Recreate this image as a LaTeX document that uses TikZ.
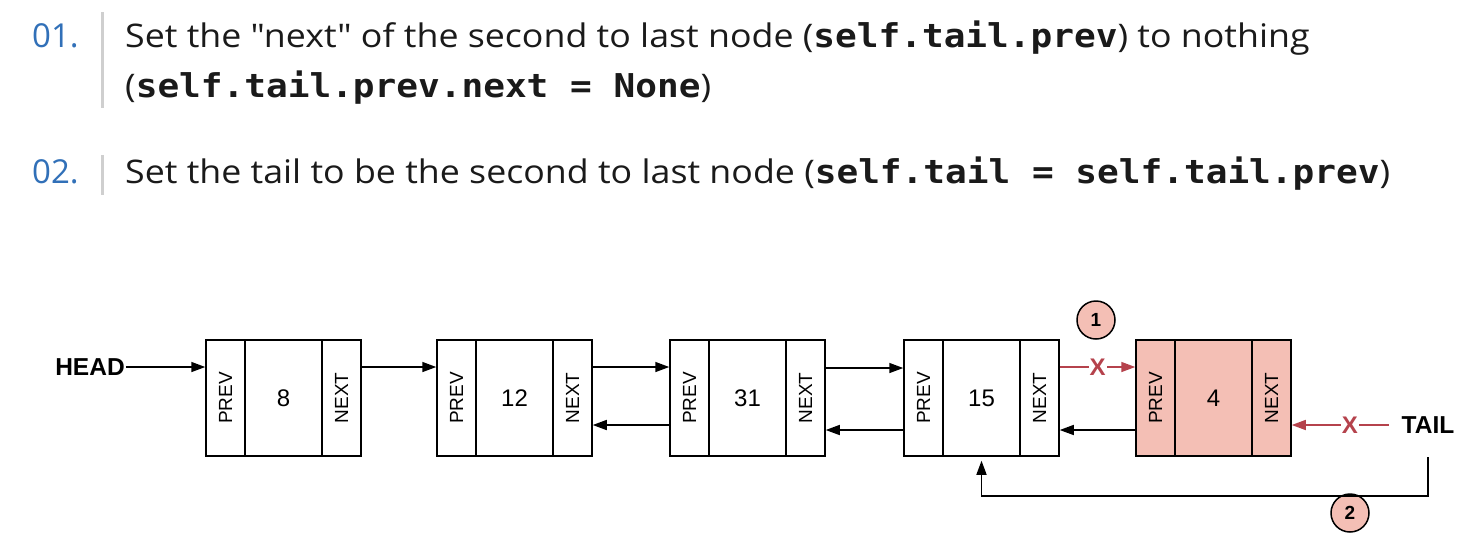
\documentclass[tikz,border=0pt]{standalone}
\usepackage{fontspec}
\setmainfont{Open Sans}[Ligatures=TeXOff]
\newfontfamily\stepfont{Open Sans}[Ligatures=TeXOff,FakeStretch=1.1]
\newfontfamily\diagfont{Liberation Sans}
\newfontfamily\codefont{DejaVu Sans Mono}[FakeStretch=1.1]
\usetikzlibrary{arrows.meta}
\definecolor{stepblue}{HTML}{3170B8}
\definecolor{barGray}{HTML}{CFCFCF}
\definecolor{tailred}{HTML}{B5424C}
\definecolor{tailpink}{HTML}{F4BFB5}
\definecolor{textblack}{HTML}{1A1A1A}
\newcommand{\code}[1]{{\codefont\bfseries\fontsize{32.8}{32.8}\selectfont #1}}
\begin{document}
\begin{tikzpicture}[x=1pt, y=-1pt,
               num_style/.style={anchor=base west,inner sep=0pt,text=stepblue,font=\fontsize{33}{33}\selectfont},
               line_style/.style={anchor=base west,inner sep=0pt,text=textblack,font=\stepfont\fontsize{32.5}{32.5}\selectfont},
               part_style/.style={rectangle,draw=black,line width=1.5pt,minimum height=116pt,inner sep=0pt},
               prev_style/.style={part_style,minimum width=39pt,font=\diagfont\fontsize{19}{19}\selectfont},
               data_style/.style={part_style,minimum width=77pt,font=\diagfont\fontsize{24}{24}\selectfont},
               next_style/.style={part_style,minimum width=39pt,font=\diagfont\fontsize{19}{19}\selectfont},
               label_style/.style={inner sep=0pt,font=\diagfont\bfseries\fontsize{24.5}{24.5}\selectfont},
               step_style/.style={circle,draw=black,line width=1.5pt,fill=tailpink,minimum size=38pt,inner sep=0pt,font=\diagfont\bfseries\fontsize{19}{19}\selectfont},
               x_style/.style={fill=white,inner sep=1pt,text=tailred,font=\diagfont\bfseries\fontsize{24}{24}\selectfont},
               edge_style/.style={draw=black,line width=1.5pt,-{Triangle[length=14pt,width=10pt]}},
               red_edge_style/.style={draw=tailred,line width=1.5pt,-{Triangle[length=14pt,width=10pt]}}]
                \useasboundingbox[fill=white] (0,0) rectangle (1468,558);

                % steps
                \node[num_style] (n1) at (32,47) {01.};
                \node[num_style] (n2) at (32,183) {02.};
                \draw[barGray,line width=3pt] (102,12) -- (102,108);
                \draw[barGray,line width=3pt] (102,155) -- (102,195);
                \node[line_style] (s1a) at (125,47) {Set the "next" of the second to last node (\code{self.tail.prev}) to nothing};
                \node[line_style] (s1b) at (125,97) {(\code{self.tail.prev.next = None})};
                \node[line_style] (s2) at (125,183) {Set the tail to be the second to last node (\code{self.tail = self.tail.prev})};

                % list nodes
                \node[prev_style] (p8) at (225.5,398) {\rotatebox{90}{PREV}};
                \node[data_style] (d8) at (283.5,398) {8};
                \node[next_style] (x8) at (341.5,398) {\rotatebox{90}{NEXT}};

                \node[prev_style] (p12) at (456.5,398) {\rotatebox{90}{PREV}};
                \node[data_style] (d12) at (514.5,398) {12};
                \node[next_style] (x12) at (572.5,398) {\rotatebox{90}{NEXT}};

                \node[prev_style] (p31) at (689.5,398) {\rotatebox{90}{PREV}};
                \node[data_style] (d31) at (747.5,398) {31};
                \node[next_style] (x31) at (805.5,398) {\rotatebox{90}{NEXT}};

                \node[prev_style] (p15) at (923.5,398) {\rotatebox{90}{PREV}};
                \node[data_style] (d15) at (981.5,398) {15};
                \node[next_style] (x15) at (1039.5,398) {\rotatebox{90}{NEXT}};

                \node[prev_style,fill=tailpink] (p4) at (1155.5,398) {\rotatebox{90}{PREV}};
                \node[data_style,fill=tailpink] (d4) at (1213.5,398) {4};
                \node[next_style,fill=tailpink] (x4) at (1271.5,398) {\rotatebox{90}{NEXT}};

                \node[label_style] (head) at (90,367) {HEAD};
                \node[label_style] (tail) at (1428,425) {TAIL};
                \node[step_style] (c1) at (1096,320) {1};
                \node[step_style] (c2) at (1350,513) {2};
                \coordinate (tail_end) at (1428,457);
                \coordinate (turn) at (1428,496);

                % links
                \draw[edge_style] ([xshift=1pt]head.east) -- (head.east -| p8.west);
                \draw[edge_style] ([yshift=31pt]x8.east) -- ([yshift=31pt]p12.west);
                \draw[edge_style] ([yshift=31pt]x12.east) -- ([yshift=31pt]p31.west);
                \draw[edge_style] ([yshift=-27pt]p31.west) -- ([yshift=-27pt]x12.east);
                \draw[edge_style] ([yshift=30pt]x31.east) -- ([yshift=30pt]p15.west);
                \draw[edge_style] ([yshift=-32pt]p15.west) -- ([yshift=-32pt]x31.east);
                \draw[red_edge_style] ([yshift=31pt]x15.east) -- node[x_style] {X} ([yshift=31pt]p4.west);
                \draw[edge_style] ([yshift=-32pt]p4.west) -- ([yshift=-32pt]x15.east);
                \draw[red_edge_style] ([xshift=-13pt]tail.west) -- node[x_style,pos=0.4] {X} (tail.west -| x4.east);
                \draw[edge_style] (tail_end) -- (turn) -| ([yshift=-4pt]d15.south);
            \end{tikzpicture}
\end{document}
